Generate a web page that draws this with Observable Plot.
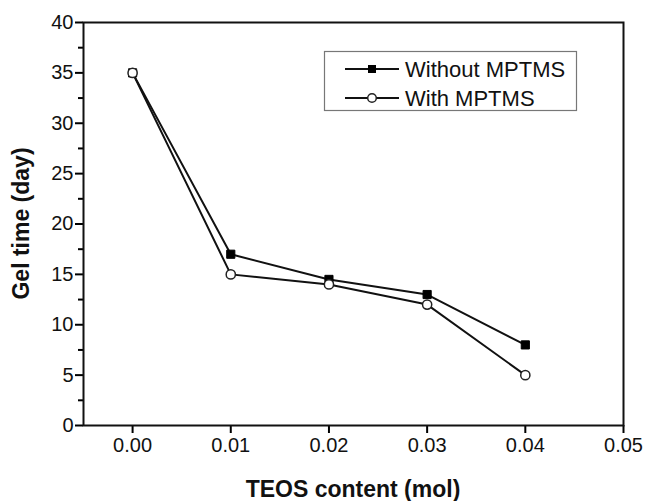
<!DOCTYPE html>
<html>
<head>
<meta charset="utf-8">
<script src="https://cdn.jsdelivr.net/npm/d3@7"></script>
<script src="https://cdn.jsdelivr.net/npm/@observablehq/plot@0.6"></script>
<style>
  html, body { margin: 0; padding: 0; background: #fff; }
  #chart svg { display: block; }
</style>
</head>
<body>
<div id="chart"></div>
<script>
const teos = [0.00, 0.01, 0.02, 0.03, 0.04];
const withoutMPTMS = [35, 17, 14.5, 13, 8];
const withMPTMS = [35, 15, 14, 12, 5];
const seriesNames = ["Without MPTMS", "With MPTMS"];
const xTicks = [0.00, 0.01, 0.02, 0.03, 0.04, 0.05];
const yTicks = [0, 5, 10, 15, 20, 25, 30, 35, 40];
const yMinorTicks = [2.5, 7.5, 12.5, 17.5, 22.5, 27.5, 32.5, 37.5];
const xTitle = "TEOS content (mol)";
const yTitle = "Gel time (day)";

const rowsWithout = teos.map((x, i) => ({x, y: withoutMPTMS[i], s: seriesNames[0]}));
const rowsWith = teos.map((x, i) => ({x, y: withMPTMS[i], s: seriesNames[1]}));

const FONT = "'Liberation Sans', Arial, Helvetica, sans-serif";
const W = 647, H = 501;
const mL = 83, mR = 24, mT = 22, mB = 76;

const chart = Plot.plot({
  width: W,
  height: H,
  marginLeft: mL,
  marginRight: mR,
  marginTop: mT,
  marginBottom: mB,
  style: {fontFamily: FONT, fontSize: "20px", color: "#111", background: "#fff", overflow: "visible"},
  x: {domain: [-0.005, 0.05]},
  y: {domain: [0, 40]},
  marks: [
    Plot.axisY({ticks: yTicks, tickSize: 8, tickPadding: 2, tickFormat: d => String(d), label: null, stroke: "#000", strokeWidth: 2, fill: "#111", fontSize: 20}),
    Plot.axisY({ticks: yMinorTicks, tickSize: 5, text: null, label: null, stroke: "#000", strokeWidth: 2}),
    Plot.axisX({ticks: xTicks, tickSize: 8, tickPadding: 4, tickFormat: d3.format(".2f"), label: null, stroke: "#000", strokeWidth: 2, fill: "#111", fontSize: 20}),
    Plot.frame({stroke: "#111", strokeWidth: 2}),
    Plot.line(rowsWithout, {x: "x", y: "y", stroke: "#111", strokeWidth: 2}),
    Plot.line(rowsWith, {x: "x", y: "y", stroke: "#111", strokeWidth: 2}),
    Plot.dot(rowsWithout, {x: "x", y: "y", symbol: "square", r: 4.6, fill: "#000", stroke: "#000", strokeWidth: 1}),
    Plot.dot(rowsWith, {x: "x", y: "y", symbol: "circle", r: 4.6, fill: "#fff", stroke: "#222", strokeWidth: 1.5})
  ]
});

document.getElementById("chart").appendChild(chart);

const svg = d3.select(chart);

svg.append("text")
  .attr("x", (mL + W - mR) / 2)
  .attr("y", 497)
  .attr("text-anchor", "middle")
  .attr("font-family", FONT)
  .attr("font-weight", "bold")
  .attr("font-size", 23)
  .attr("fill", "#111")
  .text(xTitle);

svg.append("text")
  .attr("transform", `translate(21,${(mT + H - mB) / 2}) rotate(-90)`)
  .attr("text-anchor", "middle")
  .attr("dominant-baseline", "central")
  .attr("font-family", FONT)
  .attr("font-weight", "bold")
  .attr("font-size", 23)
  .attr("fill", "#111")
  .text(yTitle);

const lg = svg.append("g");
lg.append("rect")
  .attr("x", 324.5).attr("y", 51.5)
  .attr("width", 252).attr("height", 59)
  .attr("fill", "#fff").attr("stroke", "#777").attr("stroke-width", 1.2);

const rowsY = [69, 98];
seriesNames.forEach((name, i) => {
  const y = rowsY[i];
  lg.append("line").attr("x1", 345).attr("x2", 399).attr("y1", y).attr("y2", y)
    .attr("stroke", "#111").attr("stroke-width", 2);
  if (i === 0) {
    lg.append("rect").attr("x", 368).attr("y", y - 4).attr("width", 8).attr("height", 8).attr("fill", "#000");
  } else {
    lg.append("circle").attr("cx", 372).attr("cy", y).attr("r", 4.3).attr("fill", "#fff").attr("stroke", "#222").attr("stroke-width", 1.5);
  }
  lg.append("text").attr("x", 405).attr("y", y)
    .attr("text-anchor", "start")
    .attr("dominant-baseline", "central")
    .attr("font-family", FONT).attr("font-size", 22).attr("fill", "#111")
    .text(name);
});
</script>
</body>
</html>
